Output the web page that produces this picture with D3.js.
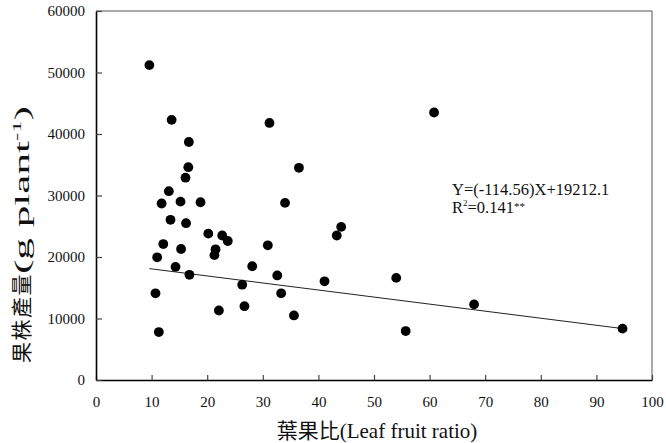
<!DOCTYPE html>
<html>
<head>
<meta charset="utf-8">
<script src="https://cdn.jsdelivr.net/npm/d3@7"></script>
<style>
  body { margin: 0; background: #fff; }
  svg text { font-family: "Liberation Serif", "Noto Sans CJK TC", serif; fill: #111; }
</style>
</head>
<body>
<div id="chart-area"></div>
<script>
// leaf fruit ratio (x) and fruit yield per plant (y)
var leafRatio = [9.6, 13.6, 31.2, 16.7, 16.6, 16.1, 13.1, 11.8, 15.2, 18.8,
    34.0, 60.8, 36.5, 13.4, 16.2, 20.2, 22.7, 23.7, 12.1, 30.9,
    15.3, 21.5, 21.3, 11.0, 28.1, 14.3, 16.8, 32.6, 26.3, 10.7,
    33.3, 26.7, 22.1, 11.3, 44.1, 43.3, 41.1, 54.0, 35.6, 55.7,
    68.0, 94.7];
var yieldPlant = [51200, 42300, 41800, 38700, 34600, 32900, 30700, 28700, 29000, 28900,
    28800, 43500, 34500, 26050, 25500, 23800, 23500, 22600, 22100, 21900,
    21300, 21250, 20300, 19950, 18500, 18400, 17100, 17000, 15500, 14100,
    14100, 12000, 11300, 7800, 24900, 23500, 16050, 16600, 10500, 7960,
    12300, 8350];

// regression line ends
var trendX = [9.6, 94.7];
var trendY = [18112, 8363];

var xTicks = [0, 10, 20, 30, 40, 50, 60, 70, 80, 90, 100];
var yTicks = [0, 10000, 20000, 30000, 40000, 50000, 60000];

var serif = '"Liberation Serif", "Noto Sans CJK TC", serif';

var margin = { left: 96, right: 14, top: 11, bottom: 63 };
var width = 666 - margin.left - margin.right;
var height = 443 - margin.top - margin.bottom;

var svg = d3.select("#chart-area").append("svg")
    .attr("width", 666)
    .attr("height", 443);

var g = svg.append("g")
    .attr("transform", `translate(${margin.left}, ${margin.top})`);

var x = d3.scaleLinear().domain([0, 100]).range([0, width]);
var y = d3.scaleLinear().domain([0, 60000]).range([height, 0]);

// frame (top and right)
g.append("path")
    .attr("d", `M0,0H${width}V${height}`)
    .attr("fill", "none")
    .attr("stroke", "#555")
    .attr("stroke-width", 1);

var xAxis = g.append("g")
    .attr("transform", `translate(0, ${height})`)
    .call(d3.axisBottom(x).tickValues(xTicks).tickSizeInner(-5).tickSizeOuter(0).tickPadding(16));

var yAxis = g.append("g")
    .call(d3.axisLeft(y).tickValues(yTicks).tickSizeInner(-6).tickSizeOuter(0).tickPadding(11)
        .tickFormat(d3.format("d")));

[xAxis, yAxis].forEach(function (a) {
    a.attr("font-family", serif).attr("font-size", 15);
    a.select(".domain").attr("stroke", "#000").attr("stroke-width", 1.6);
    a.selectAll(".tick line").attr("stroke", "#444").attr("stroke-width", 1.2);
    a.selectAll(".tick text")
        .attr("font-family", serif)
        .attr("font-size", "15px")
        .attr("fill", "#111");
});

// regression line
g.append("line")
    .attr("x1", x(trendX[0])).attr("y1", y(trendY[0]))
    .attr("x2", x(trendX[1])).attr("y2", y(trendY[1]))
    .attr("stroke", "#222")
    .attr("stroke-width", 1);

// points
g.selectAll("circle")
    .data(leafRatio)
    .enter()
    .append("circle")
    .attr("cx", function (d) { return x(d); })
    .attr("cy", function (d, i) { return y(yieldPlant[i]); })
    .attr("r", 4.9)
    .attr("fill", "#000");

// equation
svg.append("text")
    .attr("x", 452).attr("y", 195)
    .attr("font-size", "16.5px")
    .text("Y=(-114.56)X+19212.1");

var r2 = svg.append("text")
    .attr("x", 452).attr("y", 213)
    .attr("font-size", "16.5px");
r2.append("tspan").text("R");
r2.append("tspan").attr("font-size", "9px").attr("dy", -7).text("2");
r2.append("tspan").attr("dy", 7).text("=0.141");
r2.append("tspan").attr("font-size", "11px").attr("dy", -3).text("**");

// x title
svg.append("text")
    .attr("x", 377).attr("y", 438)
    .attr("text-anchor", "middle")
    .attr("font-size", "21px")
    .text("葉果比(Leaf fruit ratio)");

// y title: CJK part and latin part
svg.append("text")
    .attr("transform", "translate(29, 363) rotate(-90)")
    .attr("font-size", "21px")
    .attr("letter-spacing", "1.5px")
    .text("果株產量");

var yt = svg.append("text")
    .attr("transform", "translate(29, 274) rotate(-90)")
    .attr("font-size", "21px")
    .attr("textLength", 168)
    .attr("lengthAdjust", "spacingAndGlyphs");
yt.append("tspan").text("(g plant");
yt.append("tspan").attr("font-size", "12px").attr("dy", -8).text("-1");
yt.append("tspan").attr("dy", 8).text(")");
</script>
</body>
</html>
